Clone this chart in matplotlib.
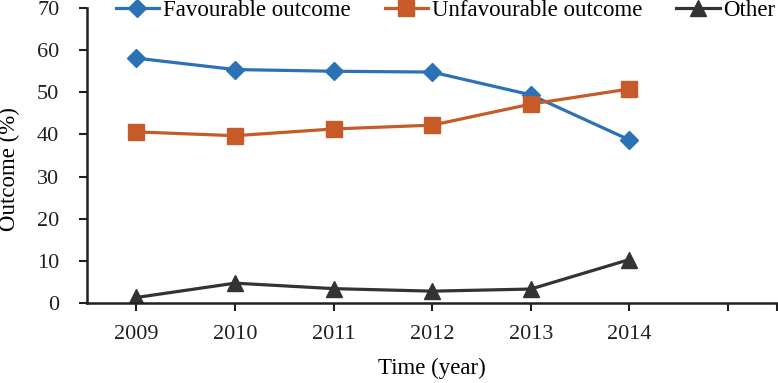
import matplotlib
matplotlib.use("Agg")
import matplotlib.pyplot as plt

years = ["2009", "2010", "2011", "2012", "2013", "2014"]
favourable = [58.1, 55.4, 55.0, 54.8, 49.4, 38.7]
unfavourable = [40.6, 39.7, 41.3, 42.2, 47.2, 50.8]
other = [1.3, 4.7, 3.4, 2.8, 3.3, 10.3]

plt.rcParams["font.family"] = ["Liberation Serif", "DejaVu Serif"]
plt.rcParams["font.size"] = 16

fig = plt.figure(figsize=(7.78, 3.83), dpi=100)
ax = fig.add_axes([0.112, 0.209, 0.887, 0.770])

x = list(range(len(years)))
ax.plot(x, favourable, color="#2a72b5", lw=2.3, marker="D", ms=9,
        label="Favourable outcome")
ax.plot(x, unfavourable, color="#c65a28", lw=2.3, marker="s", ms=11,
        label="Unfavourable outcome")
ax.plot(x, other, color="#333333", lw=2.3, marker="^", ms=11,
        label="Other")

ax.set_xlim(-0.5, 6.5)
ax.set_ylim(0, 70)
ax.set_yticks(range(0, 71, 10))
ax.set_xticks(list(range(7)) + [6.5])
ax.set_xticklabels(years + ["", ""])
ax.tick_params(axis="both", direction="out", length=6, width=1.5, colors="#231f20",
               labelsize=16, labelcolor="#231f20")
ax.tick_params(axis="x", pad=10)
ax.tick_params(axis="y", pad=14)
for s in ["top", "right"]:
    ax.spines[s].set_visible(False)
for s in ["left", "bottom"]:
    ax.spines[s].set_linewidth(1.8)
    ax.spines[s].set_color("#231f20")

ax.set_ylabel("Outcome (%)", fontsize=16.5, va="center")
ax.yaxis.set_label_coords(-0.113, 0.454)
ax.set_xlabel("Time (year)", fontsize=16.5, labelpad=10)

ax.legend(loc="upper left", bbox_to_anchor=(0.028, 1.06), ncol=3, frameon=False,
          handlelength=1.9, handletextpad=0.15, columnspacing=1.5, fontsize=16.5,
          borderaxespad=0.0)

fig.savefig("out.png", dpi=100)
